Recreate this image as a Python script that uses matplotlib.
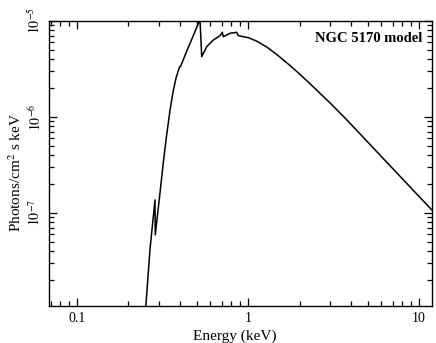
import matplotlib

matplotlib.use("Agg")
import matplotlib.pyplot as plt
import numpy as np
from matplotlib.ticker import LogLocator, NullFormatter, FixedLocator, FixedFormatter

# model spectrum (energy in keV, log10 photon flux)
energy = [0.252, 0.267, 0.2858, 0.2868, 0.3057, 0.3184, 0.3338, 0.350, 0.3642, 0.3793,
          0.3975, 0.4029, 0.411, 0.4397, 0.479, 0.519, 0.524, 0.536, 0.5735, 0.627,
          0.686, 0.7075, 0.717, 0.785, 0.859, 0.877, 1.004, 1.124, 1.286, 1.472,
          1.760, 2.014, 2.41, 3.017, 3.778, 5.913, 9.26, 11.87]
log_flux = [-8.00, -7.385, -6.865, -7.229, -6.792, -6.50, -6.198, -5.927, -5.740, -5.594,
            -5.479, -5.474, -5.4375, -5.307, -5.151, -5.00, -4.99, -5.372, -5.268, -5.198,
            -5.153, -5.118, -5.164, -5.128, -5.118, -5.153, -5.174, -5.210, -5.271, -5.349,
            -5.464, -5.557, -5.6875, -5.854, -6.030, -6.398, -6.766, -6.969]

x_ticks = [0.1, 1, 10]
x_labels = ["0.1", "1", "10"]
y_ticks = [1e-7, 1e-6, 1e-5]
y_labels = [r"$10^{-7}$", r"$10^{-6}$", r"$10^{-5}$"]

plt.rcParams["font.family"] = ["Liberation Serif", "DejaVu Serif"]
plt.rcParams["mathtext.fontset"] = "stix"

fig = plt.figure(figsize=(4.36, 3.43), dpi=100)
ax = fig.add_axes([0.1124, 0.1079, 0.8784, 0.8309])

ax.plot(energy, 10 ** np.array(log_flux), color="black", lw=1.1)

ax.set_xscale("log")
ax.set_yscale("log")
ax.set_xlim(0.0686, 11.9)
ax.set_ylim(1.07e-8, 1e-5)

ax.xaxis.set_major_locator(FixedLocator(x_ticks))
ax.xaxis.set_major_formatter(FixedFormatter(x_labels))
ax.xaxis.set_minor_locator(LogLocator(base=10, subs=np.arange(2, 10)))
ax.xaxis.set_minor_formatter(NullFormatter())
ax.yaxis.set_major_locator(FixedLocator(y_ticks))
ax.yaxis.set_major_formatter(FixedFormatter(y_labels))
ax.yaxis.set_minor_locator(LogLocator(base=10, subs=np.arange(2, 10)))
ax.yaxis.set_minor_formatter(NullFormatter())

ax.tick_params(which="both", direction="in", top=True, right=True, width=0.9)
ax.tick_params(which="major", length=6, labelsize=10, pad=4)
ax.tick_params(which="minor", length=3.5)
ax.tick_params(axis="y", labelrotation=90)
for lab in ax.get_yticklabels():
    lab.set_va("center")

for sp in ax.spines.values():
    sp.set_linewidth(1.0)

ax.set_xlabel("Energy (keV)", fontsize=11)
ax.xaxis.set_label_coords(0.486, -0.082)
ax.set_ylabel(r"Photons/cm$^2$ s keV", fontsize=11)
ax.yaxis.set_label_coords(-0.064, 0.47)

ax.text(0.975, 0.94, "NGC 5170 model", transform=ax.transAxes, ha="right", va="center",
        fontsize=10.5, fontweight="bold")

fig.savefig("out.png", dpi=100)
